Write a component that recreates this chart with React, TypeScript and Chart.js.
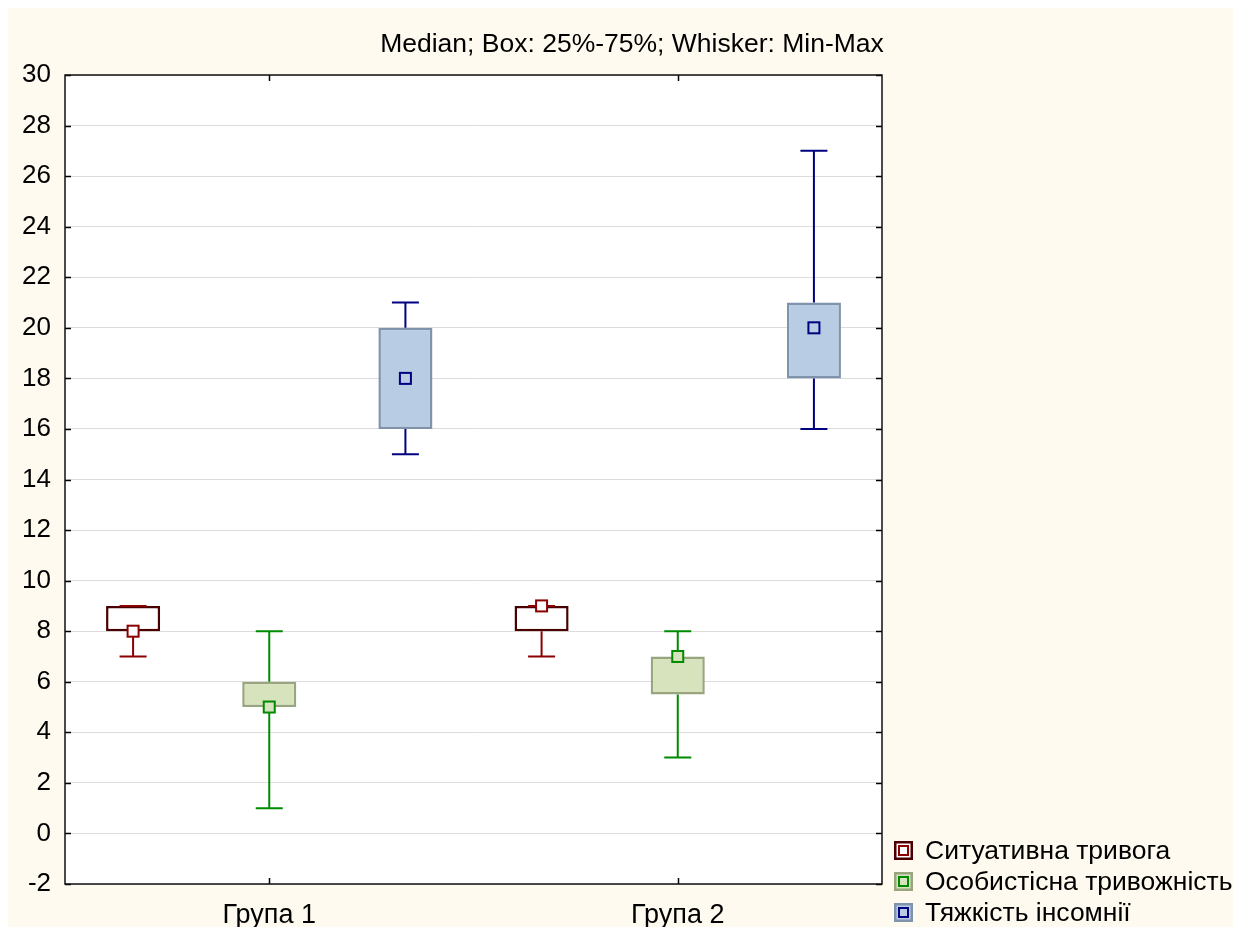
import React, { useEffect, useRef } from "react";
import { Chart, registerables } from "chart.js";

Chart.register(...registerables);

const categories = ["Група 1", "Група 2"];
const seriesNames = ["Ситуативна тривога", "Особистісна тривожність", "Тяжкість інсомнії"];
const chartTitle = "Median; Box: 25%-75%; Whisker: Min-Max";

// Ситуативна тривога
const sitMin = [7, 7];
const sitQ1 = [8, 8];
const sitMed = [8, 9];
const sitQ3 = [9, 9];
const sitMax = [9, 9];
// Особистісна тривожність
const osMin = [1, 3];
const osQ1 = [5, 5.5];
const osMed = [5, 7];
const osQ3 = [6, 7];
const osMax = [8, 8];
// Тяжкість інсомнії
const tyMin = [15, 16];
const tyQ1 = [16, 18];
const tyMed = [18, 20];
const tyQ3 = [20, 21];
const tyMax = [21, 27];

const yMin = -2;
const yMax = 30;
const yStep = 2;

const boxFill = ["#FFFFFF", "#D7E3BD", "#B8CCE4"];
const boxBorder = ["#4A0000", "#98A57E", "#7F93AD"];
const whiskerColor = ["#8B0000", "#008A00", "#000080"];

const W = 1233;
const H = 919;

export default function App() {
  const ref = useRef<HTMLCanvasElement | null>(null);

  useEffect(() => {
    if (!ref.current) return;
    const mins = [sitMin, osMin, tyMin];
    const q1s = [sitQ1, osQ1, tyQ1];
    const meds = [sitMed, osMed, tyMed];
    const q3s = [sitQ3, osQ3, tyQ3];
    const maxs = [sitMax, osMax, tyMax];

    const font = "'Liberation Sans', Arial, sans-serif";

    const plugin = {
      id: "boxplotDecor",
      beforeDraw(chart: any) {
        const { ctx, chartArea } = chart;
        ctx.save();
        ctx.fillStyle = "#FFFAEF";
        ctx.fillRect(0, 0, chart.width, chart.height);
        ctx.fillStyle = "#FFFFFF";
        ctx.fillRect(chartArea.left, chartArea.top, chartArea.right - chartArea.left, chartArea.bottom - chartArea.top);
        ctx.restore();
      },
      afterDatasetsDraw(chart: any) {
        const { ctx, chartArea } = chart;
        const ys = chart.scales.y;
        const xs = chart.scales.x;
        ctx.save();
        for (let d = 0; d < 3; d++) {
          const meta = chart.getDatasetMeta(d);
          meta.data.forEach((bar: any, j: number) => {
            const cx = bar.x;
            const cap = 13.5;
            ctx.strokeStyle = whiskerColor[d];
            ctx.lineWidth = 2;
            const yMinP = ys.getPixelForValue(mins[d][j]);
            const yQ1P = ys.getPixelForValue(q1s[d][j]);
            const yQ3P = ys.getPixelForValue(q3s[d][j]);
            const yMaxP = ys.getPixelForValue(maxs[d][j]);
            ctx.beginPath();
            ctx.moveTo(cx, yQ1P);
            ctx.lineTo(cx, yMinP);
            ctx.moveTo(cx - cap, yMinP);
            ctx.lineTo(cx + cap, yMinP);
            ctx.moveTo(cx, yQ3P);
            ctx.lineTo(cx, yMaxP);
            ctx.moveTo(cx - cap, yMaxP);
            ctx.lineTo(cx + cap, yMaxP);
            ctx.stroke();
            // median marker
            const ym = ys.getPixelForValue(meds[d][j]);
            ctx.fillStyle = boxFill[d];
            ctx.fillRect(cx - 5.5, ym - 5.5, 11, 11);
            ctx.strokeRect(cx - 5.5, ym - 5.5, 11, 11);
          });
        }
        // inward ticks
        ctx.strokeStyle = "#000000";
        ctx.lineWidth = 1.5;
        ctx.beginPath();
        for (let v = yMin; v <= yMax; v += yStep) {
          const y = Math.round(ys.getPixelForValue(v)) + 0.5;
          ctx.moveTo(chartArea.left, y);
          ctx.lineTo(chartArea.left + 6, y);
          ctx.moveTo(chartArea.right, y);
          ctx.lineTo(chartArea.right - 6, y);
        }
        for (let i = 0; i < categories.length; i++) {
          const x = Math.round(xs.getPixelForValue(i)) + 0.5;
          ctx.moveTo(x, chartArea.top);
          ctx.lineTo(x, chartArea.top + 6);
          ctx.moveTo(x, chartArea.bottom);
          ctx.lineTo(x, chartArea.bottom - 6);
        }
        ctx.stroke();
        ctx.lineWidth = 1.5;
        ctx.strokeStyle = "#111111";
        ctx.strokeRect(chartArea.left, chartArea.top, chartArea.right - chartArea.left, chartArea.bottom - chartArea.top);
        ctx.restore();
      },
      afterDraw(chart: any) {
        const { ctx } = chart;
        ctx.save();
        ctx.fillStyle = "#000000";
        ctx.font = `26.5px ${font}`;
        ctx.textAlign = "center";
        ctx.textBaseline = "middle";
        ctx.fillText(chartTitle, 624, 37);
        // legend
        ctx.textAlign = "left";
        ctx.font = `26.5px ${font}`;
        for (let d = 0; d < 3; d++) {
          const cy = 843 + d * 31;
          const x0 = 886;
          ctx.fillStyle = boxFill[d];
          ctx.fillRect(x0, cy - 10, 19, 19);
          ctx.strokeStyle = boxBorder[d];
          ctx.lineWidth = 2.5;
          ctx.strokeRect(x0 + 1.25, cy - 8.75, 16.5, 16.5);
          ctx.strokeStyle = whiskerColor[d];
          ctx.lineWidth = 2;
          ctx.strokeRect(x0 + 5, cy - 5, 9, 9);
          ctx.fillStyle = "#000000";
          ctx.fillText(seriesNames[d], 917, cy + 1);
        }
        ctx.restore();
      },
    };

    const chart = new Chart(ref.current, {
      type: "bar",
      data: {
        labels: categories,
        datasets: [0, 1, 2].map((d) => ({
          label: seriesNames[d],
          data: categories.map((_, j) => [q1s[d][j], q3s[d][j]]),
          backgroundColor: boxFill[d],
          borderColor: boxBorder[d],
          borderWidth: 2.5,
          borderSkipped: false,
          barPercentage: 0.397,
          categoryPercentage: 1.0,
        })),
      },
      options: {
        responsive: false,
        animation: false,
        layout: { padding: { top: 67, right: W - 874, left: 0, bottom: 0 } },
        plugins: { legend: { display: false }, title: { display: false }, tooltip: { enabled: false } },
        scales: {
          x: {
            grid: { display: false, drawTicks: false },
            border: { display: false },
            ticks: { color: "#000", font: { family: font, size: 27 }, padding: 15 },
            afterFit: (s: any) => {
              s.height = H - 876;
            },
          },
          y: {
            min: yMin,
            max: yMax,
            grid: { color: "#DCDCDC", lineWidth: 1, drawTicks: false },
            border: { display: false },
            ticks: { stepSize: yStep, color: "#000", font: { family: font, size: 26 }, padding: 14 },
            afterFit: (s: any) => {
              s.width = 57;
            },
          },
        },
      },
      plugins: [plugin],
    });
    return () => chart.destroy();
  }, []);

  return (
    <div style={{ width: W, height: H }}>
      <canvas ref={ref} width={W} height={H} style={{ display: "block", width: W, height: H }} />
    </div>
  );
}
